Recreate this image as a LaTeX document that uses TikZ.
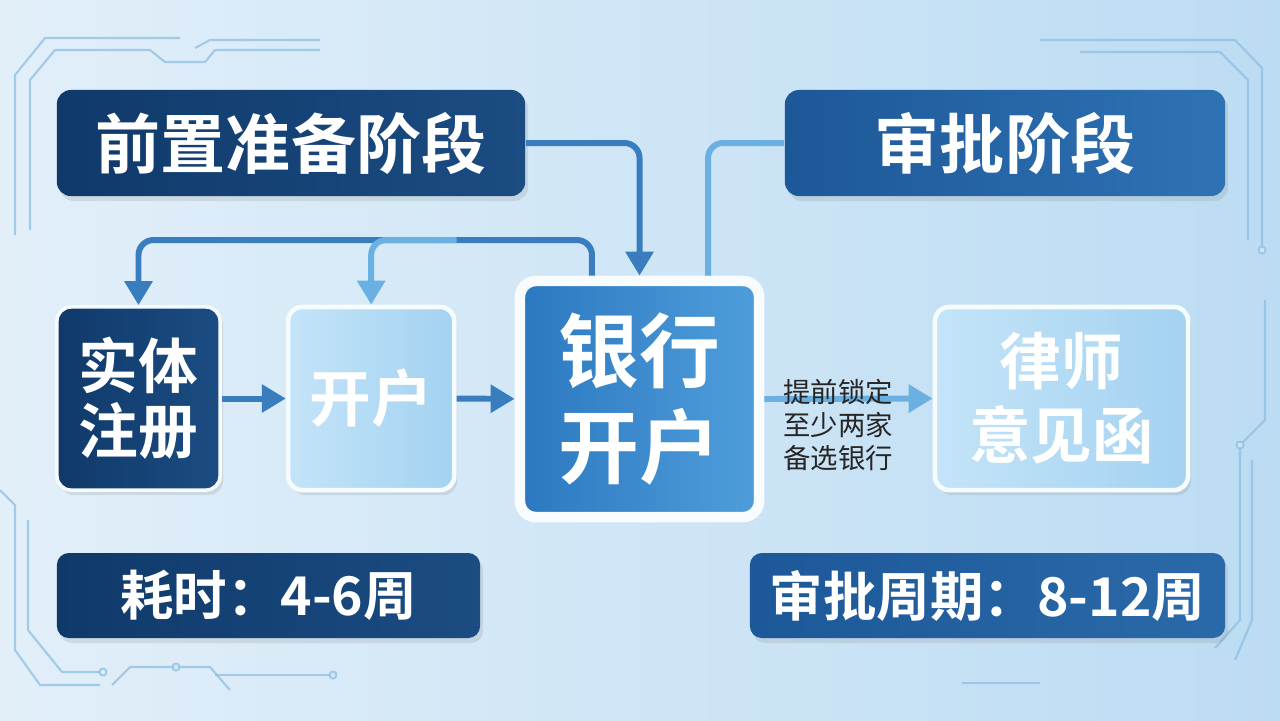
\documentclass[tikz,border=0pt]{standalone}
\usepackage{fontspec}
\setmainfont{Noto Sans CJK SC}[BoldFont={Noto Sans CJK SC Bold}]
\usetikzlibrary{arrows.meta,positioning,shadows}

\definecolor{bgleft}{HTML}{E2EFF9}
\definecolor{bgright}{HTML}{BCDCF3}
\definecolor{navy}{HTML}{10396A}
\definecolor{navylight}{HTML}{1B4C82}
\definecolor{apprdark}{HTML}{1D5898}
\definecolor{apprlight}{HTML}{2F72B4}
\definecolor{bankdark}{HTML}{2B78C0}
\definecolor{banklight}{HTML}{4F9EDB}
\definecolor{glassleft}{HTML}{C4E4F8}
\definecolor{glassright}{HTML}{A3D2F1}
\definecolor{flowblue}{HTML}{3A7DBF}
\definecolor{flowpale}{HTML}{6AB0E2}
\definecolor{circuit}{HTML}{8DBFE2}

\begin{document}
\begin{tikzpicture}[x=0.01cm,y=-0.01cm,>={Triangle[length=0.24cm,width=0.27cm]},
                    line join=round]
	\tikzstyle{every node}=[text=white]
	\tikzstyle{boxshadow}=[drop shadow={opacity=0.18,shadow xshift=0.03cm,shadow yshift=-0.05cm}]
	\tikzstyle{phase}=[rectangle,rounded corners=0.14cm,boxshadow,left color=navy,right color=navylight,
	                   minimum height=1.06cm,font=\bfseries\fontsize{18.5}{22}\selectfont]
	\tikzstyle{stepnavy}=[rectangle,rounded corners=0.14cm,boxshadow,draw=white!70!bgleft,line width=1pt,
	                   left color=navy,right color=navylight,minimum width=1.63cm,minimum height=1.83cm,
	                   align=center,font=\bfseries\fontsize{17}{18.5}\selectfont]
	\tikzstyle{stepglass}=[rectangle,rounded corners=0.14cm,boxshadow,draw=white!85!glassleft,line width=1.3pt,
	                   left color=glassleft,right color=glassright,minimum height=1.83cm,align=center]
	\tikzstyle{timebox}=[rectangle,rounded corners=0.12cm,boxshadow,minimum height=0.85cm,
	                   font=\bfseries\fontsize{15.2}{18}\selectfont]
	\tikzstyle{flow}=[draw=flowblue,line width=1.7pt,rounded corners=0.15cm]
	\tikzstyle{flowlight}=[draw=flowpale,line width=1.7pt,rounded corners=0.15cm]
	\tikzstyle{trace}=[draw=circuit,line width=0.6pt,opacity=0.75]

	% background
	\useasboundingbox (0,0) rectangle (1280,720);
	\shade[left color=bgleft,right color=bgright] (0,0) rectangle (1280,720);

	% circuit traces
	\draw[trace] (15,235) -- (15,75) -- (45,38) -- (180,38);
	\draw[trace] (30,230) -- (30,80) -- (55,50) -- (150,50) -- (165,62) -- (205,62) -- (215,50) -- (320,50);
	\draw[trace] (195,48) -- (210,40) -- (320,40);
	\draw[trace] (0,490) -- (15,505) -- (15,650) -- (40,685) -- (100,685);
	\draw[trace] (28,520) -- (28,630) -- (62,672) -- (100,672);
	\draw[trace] (112,685) -- (130,667) -- (210,667) -- (230,690);
	\draw[trace] (215,675) -- (335,675);
	\draw[trace] (1040,40) -- (1235,40) -- (1262,68) -- (1262,250);
	\draw[trace] (1080,52) -- (1220,52) -- (1248,80) -- (1248,240);
	\draw[trace] (1265,300) -- (1265,420) -- (1240,445) -- (1240,620) -- (1215,648);
	\draw[trace] (1252,460) -- (1252,620) -- (1235,660);
	\draw[trace] (962,683) -- (1040,683);
	\foreach \p in {(103,672),(176,667),(333,675),(1240,445),(1262,250)}
		\draw[trace,fill=bgleft] \p circle (0.035cm);

	% stages and steps
	\node[phase] (prep) at (291,143) [minimum width=4.68cm] {前置准备阶段};
	\node[phase,left color=apprdark,right color=apprlight] (appr) at (1005,143) [minimum width=4.4cm] {审批阶段};

	\node[stepnavy] (entity) at (138.5,398.5) {实体\\注册};
	\node[stepglass] (open) [right=0.64cm of entity,minimum width=1.66cm,
	                         font=\bfseries\fontsize{17.5}{18.5}\selectfont] {开户};
	\node[rectangle,rounded corners=0.16cm,boxshadow,draw=white!90!glassleft,line width=3pt,
	      left color=bankdark,right color=banklight,minimum width=2.39cm,minimum height=2.36cm,
	      align=center,font=\bfseries\fontsize{23}{27.5}\selectfont]
	      (bank) at (639.5,399) {银行\\开户};
	\node[stepglass] (lawyer) at (1061.5,398.5) [minimum width=2.53cm,
	                         font=\bfseries\fontsize{17.5}{21}\selectfont] {律师\\意见函};

	\node[timebox,left color=navy,right color=navylight] (prept) at (268.5,595.5) [minimum width=4.23cm] {耗时：4-6周};
	\node[timebox,left color=apprdark,right color=apprlight!85!navy] (apprt) at (987.5,595.5) [minimum width=4.75cm] {审批周期：8-12周};

	% connectors
	\draw[flow,->] (entity) -- (open);
	\draw[flow,->] (open) -- (bank);
	\draw[flow,->] (prep.east) -| (bank.north);
	\draw[flowlight] (appr.west) -| ([xshift=0.685cm]bank.north);
	\coordinate (loop) at (592,240);
	\draw[flow,->] ([xshift=-0.475cm]bank.north) |- (entity.north |- loop) -- (entity.north);
	\draw[flowlight,->] (loop -| open.east) -| (open.north);
	\draw[flowlight,->] (bank.east) -- (lawyer.west);
	\node[text=black!85,align=center,font=\fontsize{7.8}{9.4}\selectfont] (note) at (838,425)
	     {提前锁定\\至少两家\\备选银行};
\end{tikzpicture}
\end{document}
